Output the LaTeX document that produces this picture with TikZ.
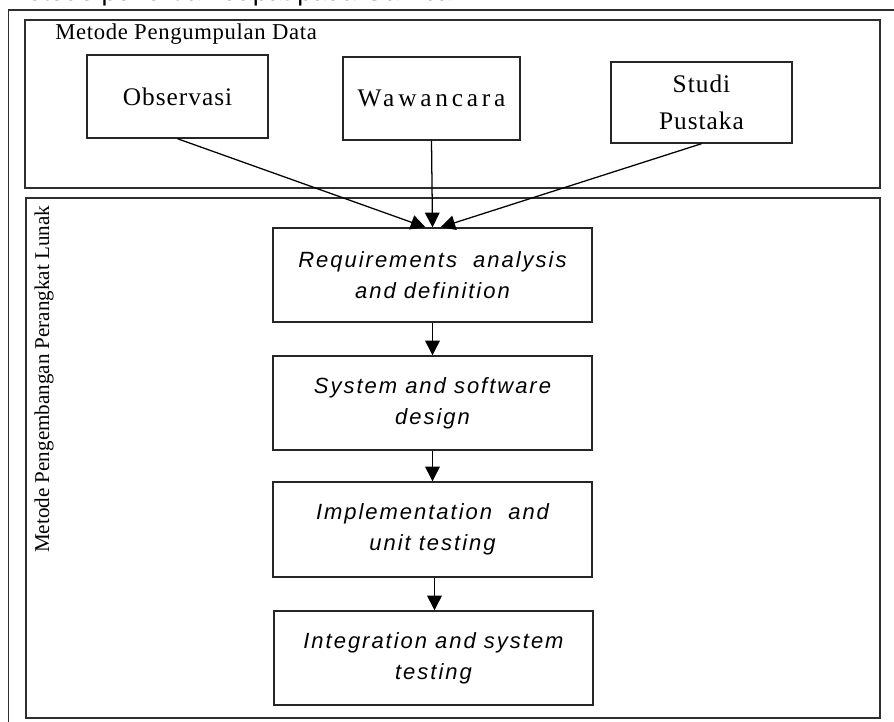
\documentclass[tikz,border=0pt]{standalone}
\usepackage{fontspec}
\setmainfont{Liberation Serif}
\newfontfamily\leadfont{Liberation Sans}
\newfontfamily\stagefont[LetterSpace=9]{Liberation Sans}
\newfontfamily\srcfont[LetterSpace=4]{Liberation Serif}
\newfontfamily\widefont[LetterSpace=15]{Liberation Serif}
\usetikzlibrary{arrows.meta,calc}

\begin{document}
\begin{tikzpicture}[x=0.75pt,y=-0.75pt,
  frame/.style={draw=black!82,line width=1.4pt},
  srcbox/.style={draw=black!85,line width=1.05pt,inner sep=0pt,align=center,
    font=\srcfont\fontsize{19}{28}\selectfont},
  stagebox/.style={draw=black!85,line width=1.05pt,inner sep=0pt,
    minimum width=239.25pt,minimum height=70.5pt,align=center,
    font=\stagefont\itshape\fontsize{16.5}{23.5}\selectfont},
  flow/.style={-{Triangle[length=11pt,width=11pt]},line width=0.95pt,draw=black}
]
\useasboundingbox (0,0) rectangle (894,722);

% running text line above the figure (only its lower edge lies on the page)
\node[anchor=base west,inner sep=0pt,font=\leadfont\fontsize{20}{24}\selectfont]
  (lead) at (5,0) {Metode penelitian dapat pada Gambar};

% outer frame and the two panels
\draw[frame] (8.5,740) -- (8.5,10) -- (910,10);
\draw[frame] (25,20) rectangle (880,188);
\draw[frame] (26,198) rectangle (880,718);

% panel labels
\node[anchor=base west,inner sep=0pt,font=\fontsize{17}{20}\selectfont\addfontfeature{LetterSpace=3}]
  (lblA) at (55,39) {Metode Pengumpulan Data};
\node[anchor=base west,inner sep=0pt,rotate=90,font=\fontsize{15.8}{19}\selectfont]
  (lblB) at (49,553) {Metode Pengembangan Perangkat Lunak};

% data collection methods
\node[srcbox,minimum width=135.75pt,minimum height=62.25pt] (obs) at (177.5,96.5) {Observasi};
\node[srcbox,minimum width=132.75pt,minimum height=62.25pt,font=\widefont\fontsize{19}{28}\selectfont] (waw) at (431.5,98.5) {Wawancara};
\node[srcbox,minimum width=135.75pt,minimum height=60.75pt] (stu) at (701.5,102.5) {Studi\\Pustaka};

% waterfall stages
\node[stagebox] (req) at (432.5,275) {Requirements \ analysis\\and definition};
\node[stagebox] (sys) at (432.5,403) {System and software\\design};
\node[stagebox,minimum height=71.25pt] (imp) at (432.5,529.5) {Implementation \ and\\unit testing};
\node[stagebox] (int) at (433.5,658) {Integration and system\\testing};

% connectors
\draw[flow] (obs.south) -- ($(req.north)+(-7,0)$);
\draw[flow] (waw.south) -- (req.north);
\draw[flow] (stu.south) -- ($(req.north)+(8,0)$);
\draw[flow] (req.south) -- (sys.north);
\draw[flow] (sys.south) -- (imp.north);
\draw[flow] ($(imp.south)+(2,0)$) -- ($(int.north)+(1,0)$);
\end{tikzpicture}
\end{document}
